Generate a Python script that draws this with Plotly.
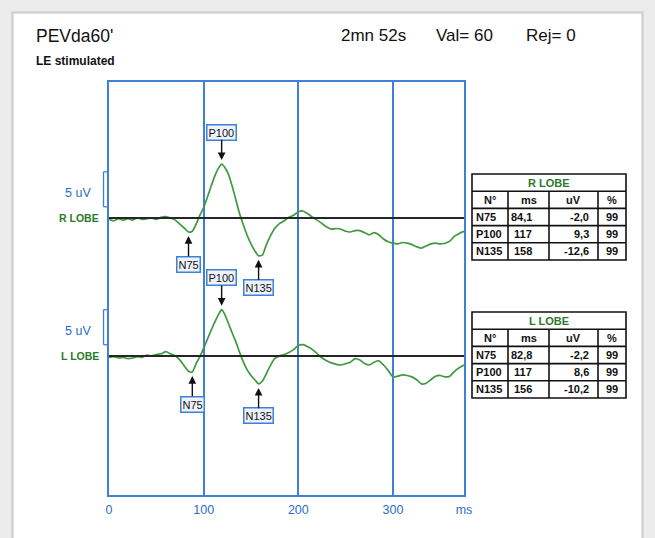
import plotly.graph_objects as go

# ---------------- data ----------------
time_ms = [0, 5, 10, 15, 20, 25, 30, 35, 40, 45, 50, 55, 60, 65, 70, 75, 80,
           84, 88, 92, 96, 100, 104, 108, 112, 116, 119, 122, 126, 130, 134,
           138, 142, 146, 150, 154, 158, 162, 166, 170,
           175, 180, 185, 190, 195, 200, 205, 210, 215, 220, 225, 230, 235,
           240, 245, 250, 255, 260, 265, 270, 275, 280, 285, 290, 295, 300,
           305, 310, 315, 320, 325, 330, 335, 340, 345, 350, 355, 360, 365,
           370, 375]

r_lobe_uv = [-0.2, -0.4, -0.1, -0.3, -0.1, -0.3, 0.0, -0.2, -0.1, 0.0, -0.2, 0.1,
             0.2, 0.0, -0.3, -0.9, -1.5,
             -2.0, -1.9, -0.9, 0.4, 1.5, 3.0, 4.6, 6.1, 7.2, 7.7, 7.3, 6.3, 4.6,
             2.6, 0.6, -1.0, -2.5, -3.7, -4.7, -5.4, -5.3, -3.9, -2.7,
             -1.5, -0.8, -0.4, 0.1, 0.4, 0.9, 1.0, 0.6, 0.1, -0.3, -0.8, -1.3,
             -1.6, -1.5, -1.6, -1.9, -2.0, -1.8, -1.8, -2.1, -2.4, -2.1, -2.4,
             -3.0, -3.4, -3.6, -3.7, -3.5, -3.6, -3.8, -4.1, -4.3, -4.0, -3.7,
             -3.6, -3.7, -3.6, -3.3, -2.6, -2.2, -1.9]

l_lobe_uv = [-0.2, -0.1, -0.3, -0.2, -0.4, -0.3, -0.1, -0.2, 0.1, 0.0, 0.2, 0.3,
             0.6, 0.3, 0.0, -0.6, -1.5,
             -2.2, -2.3, -1.1, -0.1, 1.1, 2.4, 3.7, 4.9, 6.0, 6.6, 6.0, 4.7, 3.3,
             2.0, 0.5, -0.9, -2.0, -2.8, -3.4, -4.0, -3.6, -2.6, -1.5,
             -0.4, 0.0, 0.2, 0.5, 0.9, 1.5, 1.6, 1.3, 0.9, 0.3, -0.3, -0.7,
             -1.0, -1.2, -1.3, -1.1, -0.9, -0.4, -0.6, -1.1, -1.3, -0.9, -0.7,
             -1.3, -2.1, -3.0, -2.9, -2.7, -2.8, -3.0, -3.4, -4.0, -3.9, -3.4,
             -2.9, -2.8, -3.0, -2.9, -2.2, -1.7, -1.3]

x_tick_vals = [0, 100, 200, 300, 375]
x_tick_text = ["0", "100", "200", "300", "ms"]

scale_bar_uv = 5
r_offset_uv = 0.0
l_offset_uv = -19.7

peak_labels = ["N75", "P100", "N135"]

table_header = ["N°", "ms", "uV", "%"]
r_table_ms = ["84,1", "117", "158"]
r_table_uv = ["-2,0", "9,3", "-12,6"]
r_table_pct = ["99", "99", "99"]
l_table_ms = ["82,8", "117", "156"]
l_table_uv = ["-2,2", "8,6", "-10,2"]
l_table_pct = ["99", "99", "99"]

# ---------------- layout helpers ----------------
W, H = 655, 538
ML, MR, MT, MB = 109, 191, 82, 43
PW = W - ML - MR
PH = H - MT - MB

BLUE = "#3f80d6"
BLUE_TXT = "#2b6cc9"
GREEN = "#3f9a3f"
GREEN_TXT = "#2b7a2b"
FONT = "Liberation Sans, Arial, sans-serif"


def px_x(x):
    return (x - ML) / PW


def px_y(y):
    return (H - MB - y) / PH


px_per_uv = 7.0
y_top = (218 - MT) / px_per_uv
y_range = [y_top - PH / px_per_uv, y_top]

fig = go.Figure()

for vals, off, name in [(r_lobe_uv, r_offset_uv, "R LOBE"), (l_lobe_uv, l_offset_uv, "L LOBE")]:
    fig.add_trace(go.Scatter(
        x=time_ms, y=[v + off for v in vals], mode="lines", name=name,
        line=dict(color=GREEN, width=1.7, shape="spline", smoothing=0.6),
        hoverinfo="skip", showlegend=False))

shapes = []
annotations = []

# page background
shapes.append(dict(type="rect", xref="paper", yref="paper", layer="below",
                   x0=px_x(11), x1=px_x(644), y0=px_y(560), y1=px_y(11),
                   fillcolor="#d9d9d9", line=dict(width=0)))
shapes.append(dict(type="rect", xref="paper", yref="paper", layer="below",
                   x0=px_x(13), x1=px_x(642), y0=px_y(560), y1=px_y(13),
                   fillcolor="white", line=dict(color="#c4c4c4", width=1)))

# baselines, scale bars, side labels, peak markers
for vals, off, lobe in [(r_lobe_uv, r_offset_uv, "R LOBE"), (l_lobe_uv, l_offset_uv, "L LOBE")]:
    shapes.append(dict(type="line", xref="x", yref="y", x0=time_ms[0], x1=time_ms[-1],
                       y0=off, y1=off, line=dict(color="#262626", width=2)))
    b0, b1 = off + 1.6, off + 1.6 + scale_bar_uv
    xb0, xb1 = px_x(103.5), px_x(109)
    shapes.append(dict(type="line", xref="paper", yref="y", x0=xb0, x1=xb0, y0=b0, y1=b1,
                       line=dict(color=BLUE, width=1.3)))
    for yy in (b0, b1):
        shapes.append(dict(type="line", xref="paper", yref="y", x0=xb0, x1=xb1, y0=yy, y1=yy,
                           line=dict(color=BLUE, width=1.3)))
    annotations.append(dict(text="%d uV" % scale_bar_uv, xref="paper", yref="y",
                            x=px_x(93), y=(b0 + b1) / 2 - 0.5, xanchor="right", yanchor="middle",
                            showarrow=False, font=dict(family=FONT, size=12.5, color=BLUE_TXT)))
    annotations.append(dict(text="<b>%s</b>" % lobe, xref="paper", yref="y",
                            x=px_x(101), y=off, xanchor="right", yanchor="middle",
                            showarrow=False, font=dict(family=FONT, size=10.5, color=GREEN_TXT)))

    # peaks: N75 (min before 100 ms), P100 (max 90-140), N135 (min 130-200)
    def idx_in(lo, hi, fn):
        cand = [i for i, t in enumerate(time_ms) if lo <= t <= hi]
        return fn(cand, key=lambda i: vals[i])
    i_n75 = idx_in(60, 100, min)
    i_p100 = idx_in(90, 140, max)
    i_n135 = idx_in(130, 200, min)
    for lab, i, sign in [("N75", i_n75, 1), ("P100", i_p100, -1), ("N135", i_n135, 1)]:
        annotations.append(dict(
            text=lab, x=time_ms[i], y=vals[i] + off, xref="x", yref="y",
            showarrow=True, ax=0, ay=sign * 32, standoff=4,
            arrowhead=2, arrowsize=1.1, arrowwidth=1.4, arrowcolor="#111",
            bordercolor=BLUE, borderwidth=1.5, borderpad=1, bgcolor="#eef3fb",
            font=dict(family=FONT, size=11, color="#111")))

# tables
col_edges = [472, 508, 549, 598, 626]
row_h = 17.2


def add_table(top, title, ms_vals, uv_vals, pct_vals):
    bottom = top + 5 * row_h
    lw = dict(color="#111", width=1.6)
    shapes.append(dict(type="rect", xref="paper", yref="paper",
                       x0=px_x(col_edges[0]), x1=px_x(col_edges[-1]),
                       y0=px_y(bottom), y1=px_y(top), line=lw, fillcolor="white"))
    for k in range(1, 5):
        yy = top + k * row_h
        shapes.append(dict(type="line", xref="paper", yref="paper",
                           x0=px_x(col_edges[0]), x1=px_x(col_edges[-1]),
                           y0=px_y(yy), y1=px_y(yy), line=lw))
    for xe in col_edges[1:-1]:
        shapes.append(dict(type="line", xref="paper", yref="paper",
                           x0=px_x(xe), x1=px_x(xe),
                           y0=px_y(top + row_h), y1=px_y(bottom), line=lw))
    fnt = dict(family=FONT, size=11, color="#111")

    def txt(s, x, y, anchor, color="#111"):
        annotations.append(dict(text="<b>%s</b>" % s, xref="paper", yref="paper",
                                x=px_x(x), y=px_y(y), xanchor=anchor, yanchor="middle",
                                showarrow=False, font=dict(fnt, color=color)))
    txt(title, (col_edges[0] + col_edges[-1]) / 2, top + row_h / 2, "center", GREEN_TXT)
    centers = [(col_edges[j] + col_edges[j + 1]) / 2 for j in range(4)]
    for j, h in enumerate(table_header):
        txt(h, centers[j], top + 1.5 * row_h, "center")
    for r in range(3):
        yy = top + (2.5 + r) * row_h
        txt(peak_labels[r], col_edges[0] + 2, yy, "left")
        txt(ms_vals[r], 534, yy, "right")
        txt(uv_vals[r], 591, yy, "right")
        txt(pct_vals[r], centers[3], yy, "center")


add_table(174, "R LOBE", r_table_ms, r_table_uv, r_table_pct)
add_table(312, "L LOBE", l_table_ms, l_table_uv, l_table_pct)

# header texts
annotations.append(dict(text="PEVda60'", xref="paper", yref="paper", x=px_x(34), y=px_y(36),
                        xanchor="left", yanchor="middle", showarrow=False,
                        font=dict(family=FONT, size=17.5, color="#111")))
annotations.append(dict(text="<b>LE stimulated</b>", xref="paper", yref="paper", x=px_x(34), y=px_y(61),
                        xanchor="left", yanchor="middle", showarrow=False,
                        font=dict(family=FONT, size=12, color="#111")))
for s, x in [("2mn 52s", 339), ("Val= 60", 434), ("Rej= 0", 524)]:
    annotations.append(dict(text=s, xref="paper", yref="paper", x=px_x(x), y=px_y(36),
                            xanchor="left", yanchor="middle", showarrow=False,
                            font=dict(family=FONT, size=17, color="#111")))

fig.update_layout(
    width=W, height=H, autosize=False,
    margin=dict(l=ML, r=MR, t=MT, b=MB, pad=0),
    paper_bgcolor="#ececec", plot_bgcolor="rgba(0,0,0,0)",
    shapes=shapes, annotations=annotations, showlegend=False,
    xaxis=dict(range=[0, 375], tickvals=x_tick_vals, ticktext=x_tick_text,
               showgrid=True, gridcolor=BLUE, gridwidth=1.5, zeroline=False,
               showline=True, mirror=True, linecolor=BLUE, linewidth=1.5,
               ticks="", ticklabelstandoff=2,
               tickfont=dict(family=FONT, size=12.5, color=BLUE_TXT)),
    yaxis=dict(range=y_range, showgrid=False, zeroline=False, showticklabels=False,
               showline=True, mirror=True, linecolor=BLUE, linewidth=1.5, ticks=""),
)

fig.write_html("out.html", config={"displayModeBar": False},
               post_script="document.body.style.margin='0';document.body.style.overflow='hidden';")
